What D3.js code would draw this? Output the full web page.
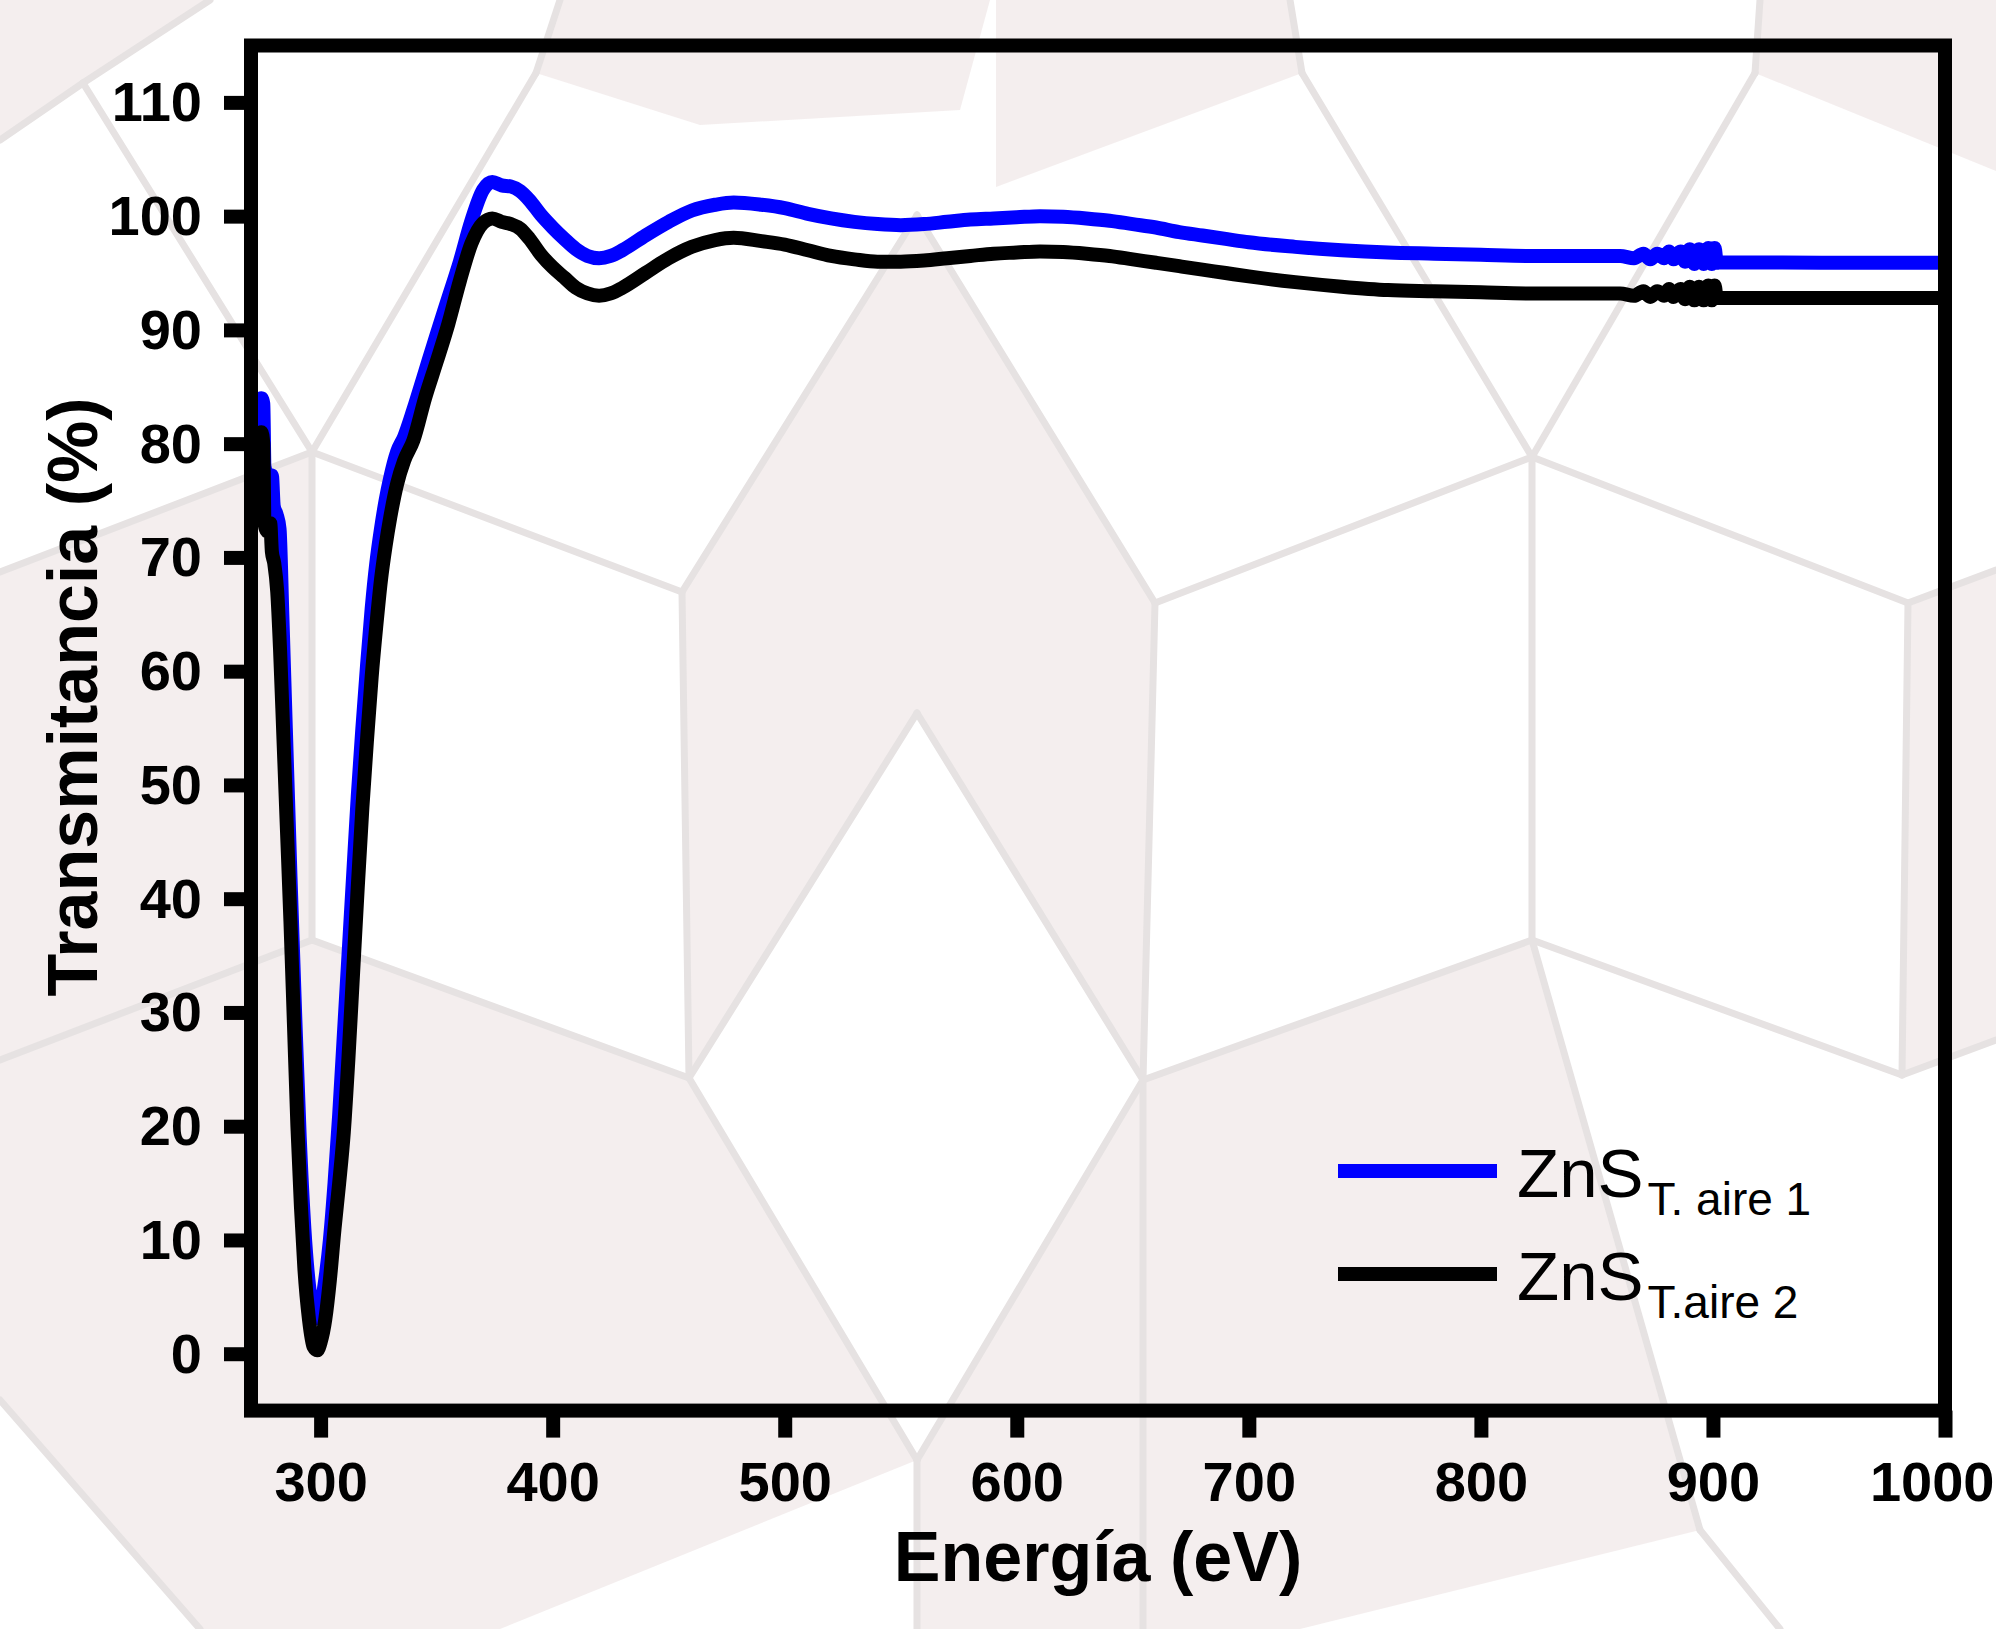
<!DOCTYPE html>
<html><head><meta charset="utf-8">
<script src="https://cdn.jsdelivr.net/npm/d3@7"></script>
<style>html,body{margin:0;padding:0;background:#fff;} svg{display:block;}</style>
</head><body>
<svg id="chart" width="1996" height="1629"></svg>
<script>
// ---------------- DATA ----------------
const energyBlue = [270,271.5,272.5,273.5,274.5,275.3,275.8,277,279,279.8,281,282.3,283.5,285,287,289,291,293,295,297,298.5,300,302,304,306,308,310,312,314,316,318,320,322,324,326,328,330,333,336,340,345,350,355,360,365,370,374,378,382,386,390,395,400,405,410,415,420,425,430,440,450,460,470,478,490,500,510,520,530,540,550,560,570,580,590,600,610,620,630,640,650,660,670,680,690,700,720,740,760,780,800,820,840,860,866,870,873,876,879,881,883,886,888,890,892,894,896,898,899.5,900.7,901.7,903,950,1000];
const transBlue  = [82.5,83.2,82.0,83.8,84.0,83.5,78.0,77.3,77.2,74.5,73.8,72.5,65,55,42,30,19,11,6,3.5,3.1,4,6.5,10,15,21,28,35,42,49,55,60.5,65.5,69.5,72.5,75,77,79.3,80.6,83,86.3,89.6,92.8,96,99.6,102.3,103.0,102.7,102.6,102.2,101.4,100.1,99.0,98.0,97.1,96.5,96.3,96.5,97.0,98.3,99.5,100.5,101.0,101.2,101.0,100.7,100.2,99.8,99.5,99.3,99.2,99.3,99.5,99.7,99.8,99.9,100.0,99.95,99.8,99.6,99.3,99.0,98.6,98.3,98.0,97.7,97.3,97.0,96.8,96.7,96.6,96.5,96.5,96.5,96.3,96.7,96.2,96.7,96.3,96.9,96.2,96.9,96.0,97.1,95.8,97.1,95.8,97.2,95.8,97.2,95.9,95.95,95.9,95.9];

const energyBlack = [270,271.5,273,274.5,275.3,275.8,277,278.3,279,280,281.3,282.5,284,285.5,287,288.5,290,291.5,293,295,297,298.5,300,302,304,306,308,310,312,314,316,318,320,322,324,326,328,330,333,336,340,345,350,355,360,365,370,374,378,382,386,390,395,400,405,410,415,420,425,430,440,450,460,470,478,490,500,510,520,530,540,550,560,570,580,590,600,610,620,630,640,650,660,670,680,690,700,720,740,760,780,800,820,840,860,866,870,873,876,879,881,883,886,888,890,892,894,896,898,899.5,900.7,901.7,903,950,1000];
const transBlack  = [79.5,78.0,80.5,81.0,80.0,73.0,72.3,73.0,70.5,69.5,67,62,54,46,38,29,20,13,7.5,3,0.6,0.3,1,3,6.5,11,15,19.5,26,33.5,41,48,54,59.5,64,68,71,73.5,76.5,78.5,80.3,84,87.2,90.5,94.3,97.6,99.4,99.8,99.5,99.3,98.9,98.0,96.6,95.5,94.6,93.7,93.2,93.0,93.2,93.7,95.0,96.3,97.3,97.9,98.1,97.8,97.5,97.0,96.5,96.2,96.0,96.0,96.1,96.3,96.5,96.7,96.8,96.9,96.85,96.7,96.5,96.2,95.9,95.6,95.3,95.0,94.7,94.2,93.8,93.5,93.4,93.3,93.2,93.2,93.2,93.0,93.4,92.9,93.4,93.0,93.6,92.9,93.6,92.7,93.8,92.6,93.8,92.6,93.9,92.6,93.9,92.8,92.8,92.8,92.8];

const seriesLabels = ["T. aire 1", "T.aire 2"];
const seriesColors = ["#0000ff", "#000000"];
const xTickValues = [300,400,500,600,700,800,900,1000];
const yTickValues = [0,10,20,30,40,50,60,70,80,90,100,110];
const xTitle = "Energía (eV)";
const yTitle = "Transmitancia (%)";

// ---------------- LAYOUT ----------------
const svg = d3.select("#chart");
const W = 1996, H = 1629;
const plot = {left: 251, right: 1945, top: 45.5, bottom: 1410.6};
const x = d3.scaleLinear().domain([270, 1000]).range([plot.left, plot.right]);
const y = d3.scaleLinear().domain([-5, 115]).range([plot.bottom, plot.top]);
const FONT = "'Liberation Sans', Arial, Helvetica, sans-serif";

// ---------------- BACKGROUND WATERMARK ----------------
const bg = svg.append("g").attr("class", "watermark");
bg.append("rect").attr("width", W).attr("height", H).attr("fill", "#ffffff");
const shades = [
  [[0,0],[210,0],[83,83],[0,140]],
  [[560,0],[990,0],[960,110],[700,125],[536,73]],
  [[1760,0],[1996,0],[1996,171],[1755,73]],
  [[996,0],[1290,0],[1302,73],[996,187]],
  [[682,592],[917,215],[917,713],[689,1078]],
  [[1155,603],[917,215],[917,713],[1143,1080]],
  [[1908,603],[1996,570],[1996,1040],[1902,1075]],
  [[312,940],[689,1078],[917,1460],[500,1629],[200,1629],[0,1400],[0,1060]],
  [[1143,1080],[1532,940],[1700,1530],[1300,1629],[917,1629],[917,1460]],
  [[0,572],[312,452],[312,940],[0,1060]]
];
bg.selectAll("polygon.shade").data(shades).join("polygon")
  .attr("class","shade")
  .attr("points", d => d.map(p => p.join(",")).join(" "))
  .attr("fill", "#efe7e7").attr("opacity", 0.7);
const bgLines = [
  [[0,140],[83,83]],[[83,83],[210,0]],[[83,83],[312,452]],[[536,73],[312,452]],[[536,73],[560,0]],
  [[0,572],[312,452]],[[312,452],[682,592]],[[312,452],[312,940]],
  [[682,592],[917,215]],[[1155,603],[917,215]],[[682,592],[689,1078]],[[1155,603],[1143,1080]],
  [[1155,603],[1532,457]],[[1532,457],[1302,73]],[[1532,457],[1755,73]],[[1302,73],[1290,0]],[[1755,73],[1760,0]],
  [[1532,457],[1908,603]],[[1532,457],[1532,940]],[[1908,603],[1996,570]],[[1908,603],[1902,1075]],
  [[1532,940],[1143,1080]],[[1532,940],[1902,1075]],[[1902,1075],[1996,1040]],
  [[312,940],[689,1078]],[[312,940],[0,1060]],[[689,1078],[917,713]],[[1143,1080],[917,713]],
  [[689,1078],[917,1460]],[[1143,1080],[917,1460]],[[917,1460],[917,1629]],
  [[1143,1080],[1143,1629]],[[1532,940],[1700,1530]],[[1700,1530],[1780,1629]],[[0,1400],[200,1629]]
];
bg.selectAll("line.bgl").data(bgLines).join("line")
  .attr("class","bgl")
  .attr("x1", d => d[0][0]).attr("y1", d => d[0][1])
  .attr("x2", d => d[1][0]).attr("y2", d => d[1][1])
  .attr("stroke", "#e6e2e2").attr("stroke-width", 7).attr("stroke-linecap","round");

// ---------------- SERIES ----------------
const line = d3.line().x(d => x(d[0])).y(d => y(d[1])).curve(d3.curveMonotoneX);
const series = [
  {name: seriesLabels[0], color: seriesColors[0], data: d3.zip(energyBlue, transBlue)},
  {name: seriesLabels[1], color: seriesColors[1], data: d3.zip(energyBlack, transBlack)}
];
svg.append("g").selectAll("path.series").data(series).join("path")
  .attr("class","series")
  .attr("d", d => line(d.data))
  .attr("fill","none").attr("stroke", d => d.color)
  .attr("stroke-width", 14).attr("stroke-linejoin","round").attr("stroke-linecap","round");

// ---------------- AXES ----------------
const xAxis = svg.append("g").attr("transform", `translate(0,${plot.bottom})`)
  .call(d3.axisBottom(x).tickValues(xTickValues).tickFormat(d3.format("d"))
    .tickSize(27).tickSizeOuter(0).tickPadding(24));
const yAxis = svg.append("g").attr("transform", `translate(${plot.left},0)`)
  .call(d3.axisLeft(y).tickValues(yTickValues).tickFormat(d3.format("d"))
    .tickSize(27).tickSizeOuter(0).tickPadding(22));
[xAxis, yAxis].forEach(a => {
  a.select(".domain").remove();
  a.selectAll(".tick line").attr("stroke", "#000").attr("stroke-width", 14);
  a.selectAll(".tick text").attr("fill", "#000").attr("font-family", FONT)
    .attr("font-weight", "bold").attr("font-size", 56);
});
yAxis.selectAll(".tick text").attr("dy", "0.33em");
// keep the last x label inside the page
xAxis.selectAll(".tick").filter(d => d === 1000).select("text")
  .attr("text-anchor", "end").attr("x", W - 2 - plot.right);

// frame
svg.append("rect")
  .attr("x", plot.left).attr("y", plot.top)
  .attr("width", plot.right - plot.left).attr("height", plot.bottom - plot.top)
  .attr("fill", "none").attr("stroke", "#000").attr("stroke-width", 14);

// titles
svg.append("text").attr("x", (plot.left + plot.right) / 2).attr("y", 1581)
  .attr("text-anchor", "middle").attr("font-family", FONT).attr("font-weight", "bold")
  .attr("font-size", 70).attr("fill", "#000").text(xTitle);
svg.append("text").attr("transform", "translate(97,697) rotate(-90)")
  .attr("text-anchor", "middle").attr("font-family", FONT).attr("font-weight", "bold")
  .attr("font-size", 70).attr("fill", "#000").text(yTitle);

// ---------------- LEGEND ----------------
const legend = svg.append("g").attr("class", "legend");
const legRows = legend.selectAll("g").data(series).join("g")
  .attr("transform", (d, i) => `translate(0,${i === 0 ? 1171 : 1274})`);
legRows.append("line").attr("x1", 1338).attr("x2", 1497).attr("y1", 0).attr("y2", 0)
  .attr("stroke", d => d.color).attr("stroke-width", 14);
const lt = legRows.append("text").attr("x", 1517).attr("y", 26)
  .attr("font-family", FONT).attr("font-size", 69).attr("fill", "#000");
lt.append("tspan").text("ZnS");
lt.append("tspan").attr("font-size", 46).attr("dy", 18).attr("dx", 4).text(d => d.name);
</script>
</body></html>
